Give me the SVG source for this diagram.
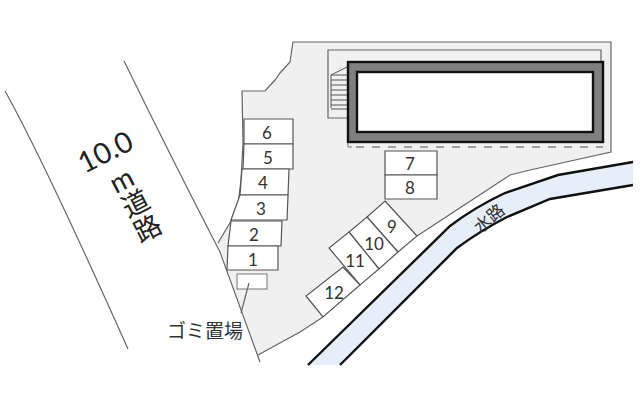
<svg xmlns="http://www.w3.org/2000/svg" width="640" height="400" viewBox="0 0 640 400">
<style>
text{font-family:"Lato","Noto Sans CJK JP",sans-serif;fill:#333;text-anchor:middle}
.n{font-size:17px}
.p{fill:#fff;stroke:#555;stroke-width:1.2}
.l{fill:none;stroke:#666;stroke-width:1.2}
.w{fill:none;stroke:#111;stroke-width:2.4}
.r{fill:#222}
</style>
<rect width="640" height="400" fill="#fff"/>
<g id="site">
<path d="M293 42H611V152L530 170 510 175 417 236 323 317 300 332 258 355 218 243 231 221 238 205 241 180 243 143 242 91H265L275 80 280 73 290 62Z" fill="#f0f0f0" stroke="none"/>
<path class="l" d="M218 243 231 221 238 205 241 180 243 143 242 91H265L275 80 280 73 290 62 293 42H611V152L530 170 510 175 417 236"/>
<path class="l" d="M323 317 300 332 258 355"/>
</g>
<g id="road">
<path class="l" d="M5 91Q43.500 160 128 349"/>
<path class="l" d="M124 61Q170 155 220 252L260 362"/>
</g>
<g id="water">
<path d="M308 365 450 226Q475 207 505 193L558 175 633 162V185L550 199 507 217Q480 231 457 248L340 365Z" fill="#e6eefa"/>
<path class="w" d="M308 365 450 226Q475 207 505 193L558 175 633 162"/>
<path class="w" d="M340 365 457 248Q480 231 507 217L550 199 633 185"/>
<text transform="translate(493 223) rotate(-40)" font-size="17">水路</text>
</g>
<g id="building">
<path class="l" d="M347 50H328V118H347M347 50H601V61"/>
<g stroke="#555" stroke-width="1" fill="none">
<path d="M331 75 347 67M331 75V108M331 75H347M331 80H347M331 85H347M331 90H347M331 95H347M331 100H347M331 105H347M331 109H347"/>
</g>
<rect x="348" y="62" width="255" height="80" fill="#808080" stroke="#111" stroke-width="2.4"/>
<rect x="357" y="72" width="236" height="60" fill="#fff" stroke="#111" stroke-width="2.4"/>
<path d="M348 143V147H352" fill="none" stroke="#777"/>
<path d="M356 147H603" fill="none" stroke="#888" stroke-width="1.5" stroke-dasharray="8 8"/>
</g>
<g id="p6"><path class="p" d="M244 119H293V144H244Z"/><text class="n" x="267" y="139">6</text></g>
<g id="p5"><path class="p" d="M244 144H293V169H243Z"/><text class="n" x="268" y="164">5</text></g>
<g id="p4"><path class="p" d="M242 169H289L288 195H240Z"/><text class="n" x="263" y="189">4</text></g>
<g id="p3"><path class="p" d="M240 195H288L287 220H231Z"/><text class="n" x="261" y="215">3</text></g>
<g id="p2"><path class="p" d="M231 221H282L281 246H228Z"/><text class="n" x="254" y="241">2</text></g>
<g id="p1"><path class="p" d="M228 246H278V270H227Z"/><text class="n" x="253" y="266">1</text></g>
<g id="p7"><path class="p" d="M385 151H437V175H385Z"/><text class="n" x="410" y="170">7</text></g>
<g id="p8"><path class="p" d="M385 175H437V199H385Z"/><text class="n" x="410" y="194">8</text></g>
<g id="p9"><path class="p" d="M385 201 417 236 398 252 367 217Z"/><text class="n" x="392" y="233">9</text></g>
<g id="p10"><path class="p" d="M367 217 398 252 379 269 349 232Z"/><text class="n" x="374" y="250">10</text></g>
<g id="p11"><path class="p" d="M349 232 379 269 360 285 329 248Z"/><text class="n" x="355" y="267">11</text></g>
<g id="p12"><path class="p" d="M343 267 360 285 323 317 306 296Z"/><text class="n" x="334" y="299">12</text></g>
<g id="trash"><rect x="237" y="274" width="30" height="15" fill="#fff" stroke="#777"/></g>
<g id="connectors"><path class="l" d="M249 283 241 313"/></g>
<g id="trash-label"><text x="205" y="338" font-size="19">ゴミ置場</text></g>
<g id="road-label">
<text class="r" transform="translate(110 161) rotate(-27)" font-size="29">10.0</text>
<text class="r" transform="translate(126 189) rotate(-27)" font-size="28">m</text>
<text class="r" transform="translate(140 212) rotate(-27)" font-size="27">道</text>
<text class="r" transform="translate(152 237) rotate(-27)" font-size="27">路</text>
</g>
</svg>
